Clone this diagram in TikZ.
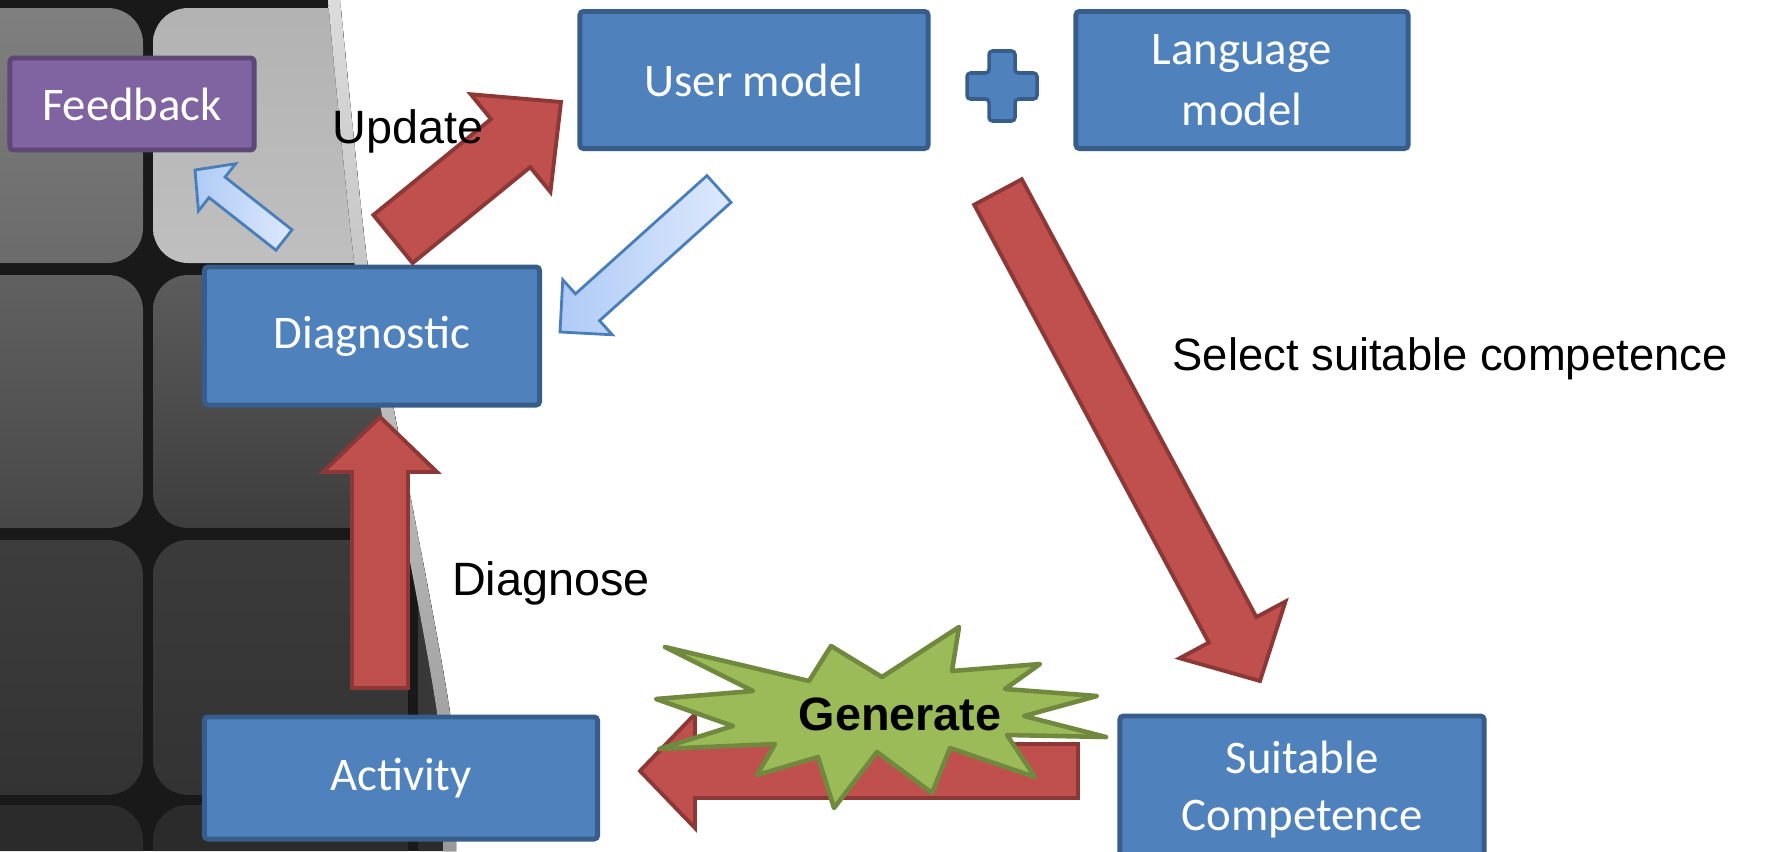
\documentclass[tikz,border=0pt]{standalone}
\usepackage{fontspec}
\setmainfont{Carlito}
\newfontfamily\arialfont{Liberation Sans}
\usetikzlibrary{calc}

\definecolor{boxblue}{HTML}{4F81BD}
\definecolor{boxedge}{HTML}{385D8A}
\definecolor{fbpurple}{HTML}{8064A2}
\definecolor{fbedge}{HTML}{5C4776}
\definecolor{arrred}{HTML}{C0504D}
\definecolor{arredge}{HTML}{8C3836}
\definecolor{burstgreen}{HTML}{9BBB59}
\definecolor{burstedge}{HTML}{71893F}
\definecolor{lightblueA}{HTML}{AFCBF6}
\definecolor{lightblueB}{HTML}{DDE9FC}
\definecolor{lightedge}{HTML}{4A7EBB}

\tikzstyle{bluebox} = [rectangle, rounded corners=1pt, line width=1.4pt, draw=boxedge, fill=boxblue, text=white, text centered, align=center, font=\fontsize{13.3}{16.2}\selectfont]
\tikzstyle{purplebox} = [bluebox, draw=fbedge, fill=fbpurple]
\tikzstyle{redarrow} = [line width=1.1pt, draw=arredge, fill=arrred]
\tikzstyle{bluearrow} = [line width=0.8pt, draw=lightedge, left color=lightblueA, right color=lightblueB]
\tikzstyle{burst} = [line width=1.3pt, draw=burstedge, fill=burstgreen, line join=round]
\tikzstyle{flowtext} = [inner sep=0pt, anchor=base, font=\arialfont\fontsize{13.3}{16}\selectfont]

% block arrow: [style]{tail}{tip}{half shaft}{half head}{head length}
\newcommand{\blockarrow}[6][]{%
  \coordinate (neck) at ($(#3)!#6cm!(#2)$);
  \draw[#1] ($(#2)!#4cm!90:(#3)$) -- ($(neck)!#4cm!90:(#3)$) -- ($(neck)!#5cm!90:(#3)$) -- (#3)
    -- ($(neck)!#5cm!-90:(#3)$) -- ($(neck)!#4cm!-90:(#3)$) -- ($(#2)!#4cm!-90:(#3)$) -- cycle;
}

\begin{document}
\begin{tikzpicture}[x=0.01cm, y=-0.01cm]
\useasboundingbox (0,0) rectangle (1775,851);

% Background tiles on the left
\begin{scope}
\clip (0,0) -- plot[smooth] coordinates {(340,0) (367,260) (393,405) (450,713) (456,851)} -- (0,851) -- cycle;
\fill[black!90] (0,0) rectangle (480,851);
\fill[rounded corners=0.35cm, top color=black!50, bottom color=black!58] (-112,8) rectangle (143,263);
\fill[rounded corners=0.35cm, top color=black!30, bottom color=black!25] (153,8) rectangle (408,263);
\fill[rounded corners=0.35cm, top color=black!62, bottom color=black!72] (-112,275) rectangle (143,528);
\fill[rounded corners=0.35cm, top color=black!64, bottom color=black!76] (153,275) rectangle (408,528);
\fill[rounded corners=0.35cm, top color=black!76, bottom color=black!80] (-112,540) rectangle (143,795);
\fill[rounded corners=0.35cm, top color=black!77, bottom color=black!80] (153,540) rectangle (408,795);
\fill[rounded corners=0.35cm, black!78] (418,540) rectangle (673,795);
\fill[rounded corners=0.35cm, black!83] (-112,805) rectangle (143,1060);
\fill[rounded corners=0.35cm, black!83] (153,805) rectangle (408,1060);
\fill[rounded corners=0.35cm, black!83] (418,805) rectangle (673,1060);
% glossy edge
\fill[top color=black!14, bottom color=black!40] plot[smooth] coordinates {(340,0) (367,260) (393,405) (450,713) (456,851)}
  -- plot[smooth] coordinates {(443,851) (437,713) (380,405) (354,260) (328,0)} -- cycle;
\end{scope}

% Boxes
\node (feedback) [purplebox, minimum width=2.44cm, minimum height=0.92cm] at (132,104) {Feedback};
\node (usermodel) [bluebox, minimum width=3.48cm, minimum height=1.37cm] at (754,80) {User model};
\node (langmodel) [bluebox, minimum width=3.32cm, minimum height=1.37cm, font=\fontsize{13.3}{17.2}\selectfont] at (1242,80) {Language\\model};
\node (diag) [bluebox, minimum width=3.35cm, minimum height=1.38cm] at (372,336) {Diagnostic};
\node (activity) [bluebox, minimum width=3.93cm, minimum height=1.22cm] at (401,778) {Activity};
\node (suitable) [bluebox, minimum width=3.64cm, minimum height=1.48cm] at (1302,790) {Suitable\\Competence};

% Plus between the models
\coordinate (plus) at (1002,86);
\draw[bluebox, line width=1pt] (plus) ++(-13,-35) -- ++(26,0) -- ++(0,22) -- ++(22,0) -- ++(0,26) -- ++(-22,0)
  -- ++(0,22) -- ++(-26,0) -- ++(0,-22) -- ++(-22,0) -- ++(0,-26) -- ++(22,0) -- cycle;

% Arrows
\coordinate (upd-tail) at (393,239);
\coordinate (upd-tip) at (561,102);
\blockarrow[redarrow]{upd-tail}{upd-tip}{0.31}{0.63}{0.65}
\coordinate (sel-tail) at (998,192);
\coordinate (sel-tip) at (1260,681);
\blockarrow[redarrow]{sel-tail}{sel-tip}{0.27}{0.60}{0.58}
\coordinate (dia-tail) at (380,688);
\coordinate (dia-tip) at (380,417);
\blockarrow[redarrow]{dia-tail}{dia-tip}{0.28}{0.57}{0.55}
\coordinate (back-tail) at (719,189);
\coordinate (back-tip) at (560,332);
\blockarrow[bluearrow]{back-tail}{back-tip}{0.18}{0.37}{0.37}
\coordinate (fb-tail) at (284,240);
\coordinate (fb-tip) at (195,170);
\blockarrow[bluearrow]{fb-tail}{fb-tip}{0.13}{0.30}{0.28}
\coordinate (gen-tail) at (1078,771);
\coordinate (gen-tip) at (640,771);
\blockarrow[redarrow]{gen-tail}{gen-tip}{0.27}{0.57}{0.55}

% Generate burst
\draw[burst] (665,647) -- (809,681) -- (831,646) -- (882,677) -- (959,627) -- (952,671) -- (1040,664) -- (1005,689)
  -- (1097,696) -- (1024,716) -- (1106,737) -- (1007,735) -- (1035,777) -- (950,748) -- (932,793) -- (877,752)
  -- (834,808) -- (818,757) -- (757,775) -- (775,744) -- (659,749) -- (733,726) -- (656,699) -- (753,691) -- cycle;
\node (generate) [flowtext, font=\arialfont\bfseries\fontsize{13.3}{16}\selectfont] at (900,730) {Generate};

% Labels
\node (update) [flowtext] at (408,143) {Update};
\node (diagnose) [flowtext] at (551,595) {Diagnose};
\node (select) [flowtext, anchor=base west, font=\arialfont\fontsize{12.9}{16}\selectfont] at (1172,370) {Select suitable competence};
\end{tikzpicture}
\end{document}
